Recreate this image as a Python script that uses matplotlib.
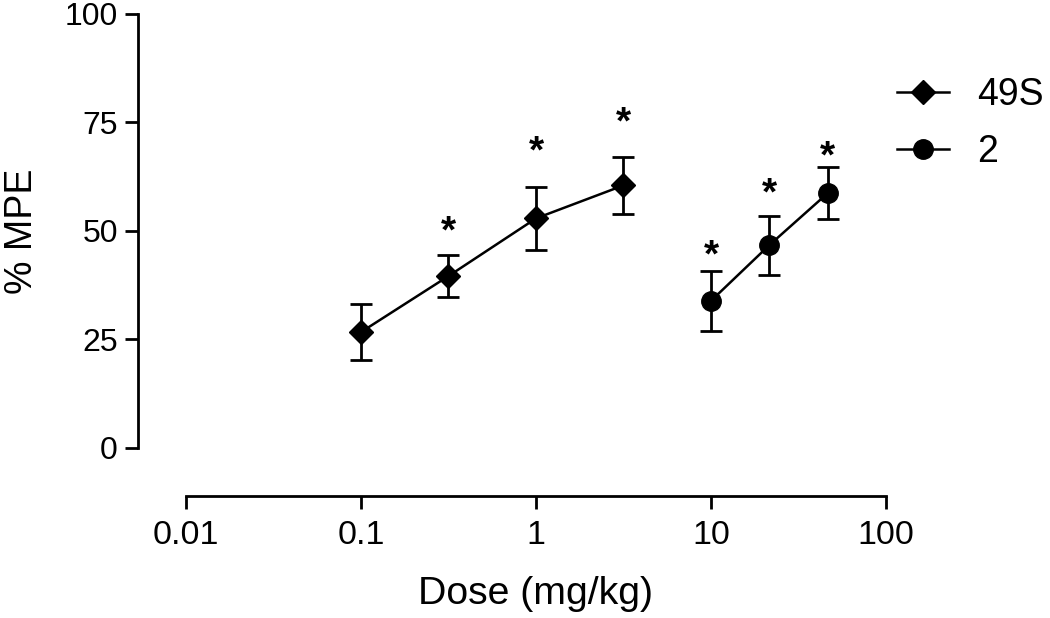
import numpy as np
import matplotlib
matplotlib.use('Agg')
import matplotlib.pyplot as plt
from matplotlib.ticker import FixedLocator, FixedFormatter, NullLocator

plt.rcParams['font.family'] = ['Liberation Sans', 'DejaVu Sans']

# 49S
dose_49s = np.array([0.1, 0.316, 1.0, 3.16])
mpe_49s = np.array([26.7, 39.6, 52.9, 60.5])
err_49s = np.array([6.4, 4.9, 7.3, 6.5])
star_49s = np.array([51.8, 70.3, 77.0])   # asterisks over the last three doses

# compound 2
dose_2 = np.array([10.0, 21.5, 46.4])
mpe_2 = np.array([33.9, 46.7, 58.7])
err_2 = np.array([6.9, 6.8, 6.0])
star_2 = np.array([46.3, 60.6, 69.1])

xticks = [0.01, 0.1, 1, 10, 100]
xtick_labels = ['0.01', '0.1', '1', '10', '100']
yticks = [0, 25, 50, 75, 100]


def main():
    fig = plt.figure(figsize=(10.5, 6.18), dpi=100)
    ax = fig.add_axes([0.1771, 0.2751, 0.6667, 0.7023])

    ax.plot(dose_49s, mpe_49s, '-D', color='black', lw=1.8, ms=12,
            label='49S', clip_on=False, zorder=3)
    ax.errorbar(dose_49s, mpe_49s, yerr=err_49s, fmt='none', ecolor='black',
                elinewidth=2.0, capsize=8, capthick=2.0, clip_on=False)
    ax.plot(dose_2, mpe_2, '-o', color='black', lw=1.8, ms=14,
            label='2', clip_on=False, zorder=3)
    ax.errorbar(dose_2, mpe_2, yerr=err_2, fmt='none', ecolor='black',
                elinewidth=2.0, capsize=8, capthick=2.0, clip_on=False)

    # significance asterisks
    for x, y in zip(list(dose_49s[1:]) + list(dose_2), list(star_49s) + list(star_2)):
        ax.annotate('*', (x, y), xytext=(0, -14), textcoords='offset points',
                    ha='center', va='baseline', fontsize=28, fontweight='bold')

    ax.set_xscale('log')
    ax.set_xlim(0.01, 100)
    ax.set_ylim(0, 100)
    ax.xaxis.set_major_locator(FixedLocator(xticks))
    ax.xaxis.set_major_formatter(FixedFormatter(xtick_labels))
    ax.xaxis.set_minor_locator(NullLocator())
    ax.set_yticks(yticks)

    for s in ['top', 'right']:
        ax.spines[s].set_visible(False)
    ax.spines['left'].set_position(('outward', 34.6))
    ax.spines['bottom'].set_position(('outward', 34.6))
    ax.spines['left'].set_bounds(0, 100)
    ax.spines['bottom'].set_bounds(0.01, 100)
    for s in ['left', 'bottom']:
        ax.spines[s].set_linewidth(2.0)

    ax.tick_params(axis='both', direction='out', length=9.4, width=2.0)
    ax.tick_params(axis='y', labelsize=23, pad=5)
    ax.tick_params(axis='x', labelsize=24.5, pad=7.5)

    ax.set_xlabel('Dose (mg/kg)', fontsize=28.3, labelpad=18)
    ax.set_ylabel('% MPE', fontsize=27, labelpad=18)

    ax.legend(loc='center left', bbox_to_anchor=(0.822, 0.80),
              bbox_transform=fig.transFigure, frameon=False, fontsize=27,
              handlelength=1.4, handletextpad=0.75, labelspacing=0.55)

    fig.savefig('out.png', dpi=100)


if __name__ == '__main__':
    main()
